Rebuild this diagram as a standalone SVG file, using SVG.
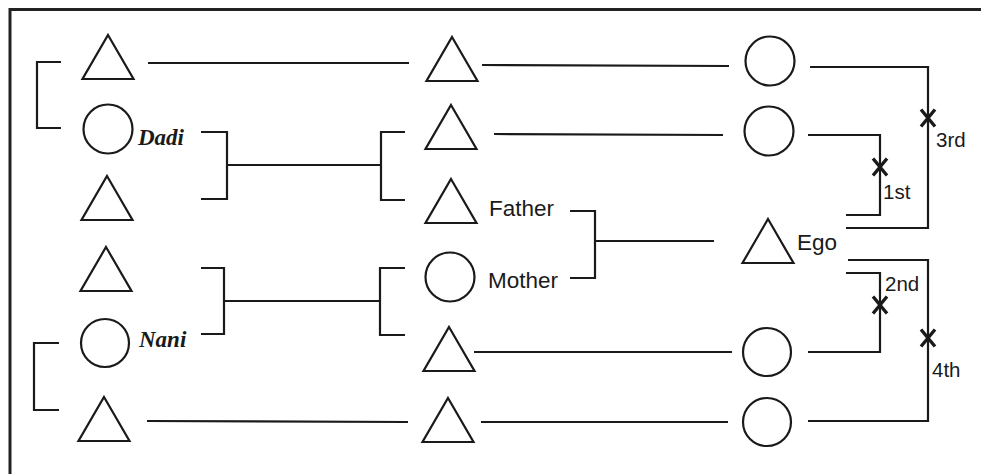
<svg xmlns="http://www.w3.org/2000/svg" width="981" height="474" viewBox="0 0 981 474">
<style>
.s{fill:none;stroke:#1a1a1a;stroke-width:2.2}
.c{fill:none;stroke:#1a1a1a;stroke-width:2.2}
.it{font-family:"Liberation Serif",serif;font-style:italic;font-weight:bold;font-size:23px;fill:#1a1a1a}
.lb{font-family:"Liberation Sans",Arial,sans-serif;font-size:22.5px;fill:#1a1a1a}
.sm{font-family:"Liberation Sans",Arial,sans-serif;font-size:20.5px;fill:#1a1a1a}
.x{fill:none;stroke:#1a1a1a;stroke-width:3.4}
</style>
<defs>
<path id="tri" d="M0,-22 L25.5,22 L-25.5,22 Z"/>
<g id="xm"><path d="M-7,-8.5 L7,8.5 M7,-8.5 L-7,8.5"/></g>
</defs>
<g id="frame"><path d="M10,474 L10,9.5 L981,9.5" fill="none" stroke="#222" stroke-width="3"/></g>

<g id="connectors" class="s">
<path d="M148,63 L409,63"/>
<path d="M482,65 L729,66"/>
<path d="M61,62 L37,62 L37,128 L61,128"/>
<path d="M201,132 L227,132 L227,199 L201,199 M227,165 L381,165"/>
<path d="M405,132 L381,132 L381,200 L405,200"/>
<path d="M494,134 L723,135"/>
<path d="M570,211 L595,211 L595,278 L570,278 M595,241 L714,241"/>
<path d="M201,268 L224,268 L224,334 L201,334 M224,301 L380,301"/>
<path d="M405,268 L380,268 L380,335 L405,335"/>
<path d="M59,343 L34,343 L34,410 L59,410"/>
<path d="M474,352 L732,352"/>
<path d="M147,421 L408,422"/>
<path d="M481,422 L728,422"/>
<path d="M810,67 L928,67 L928,228 L846,228"/>
<path d="M808,135 L880,135 L880,215 L846,215"/>
<path d="M848,260 L928,260 L928,421 L808,421"/>
<path d="M846,273 L880,273 L880,352 L808,352"/>
</g>

<g id="marks" class="x">
<use href="#xm" x="928" y="118"/>
<use href="#xm" x="880" y="167"/>
<use href="#xm" x="880" y="305"/>
<use href="#xm" x="928" y="338"/>
</g>
<g id="ordinals">
<text class="sm" x="936" y="147">3rd</text>
<text class="sm" x="883" y="199">1st</text>
<text class="sm" x="885" y="291">2nd</text>
<text class="sm" x="932" y="377">4th</text>
</g>

<g id="gp-m1"><use href="#tri" class="s" x="108" y="57"/></g>
<g id="dadi"><circle class="c" cx="108" cy="129" r="24.5"/><text class="it" x="138" y="145">Dadi</text></g>
<g id="gp-m2"><use href="#tri" class="s" x="107" y="198"/></g>
<g id="gp-m3"><use href="#tri" class="s" x="106" y="269"/></g>
<g id="nani"><circle class="c" cx="105" cy="343" r="24"/><text class="it" x="139" y="347">Nani</text></g>
<g id="gp-m4"><use href="#tri" class="s" x="104" y="419"/></g>

<g id="p1"><use href="#tri" class="s" x="452" y="59"/></g>
<g id="p2"><use href="#tri" class="s" x="451" y="127"/></g>
<g id="father"><use href="#tri" class="s" x="451" y="201"/><text class="lb" x="489" y="216">Father</text></g>
<g id="mother"><circle class="c" cx="450" cy="277" r="24.5"/><text class="lb" x="488" y="288">Mother</text></g>
<g id="p5"><use href="#tri" class="s" x="449" y="349"/></g>
<g id="p6"><use href="#tri" class="s" x="448" y="420"/></g>

<g id="c1"><circle class="c" cx="770" cy="61" r="24.5"/></g>
<g id="c2"><circle class="c" cx="769" cy="131" r="24.5"/></g>
<g id="ego"><use href="#tri" class="s" x="768" y="241"/><text class="lb" x="797" y="250">Ego</text></g>
<g id="c3"><circle class="c" cx="767" cy="352" r="24"/></g>
<g id="c4"><circle class="c" cx="767" cy="422" r="24"/></g>
</svg>
